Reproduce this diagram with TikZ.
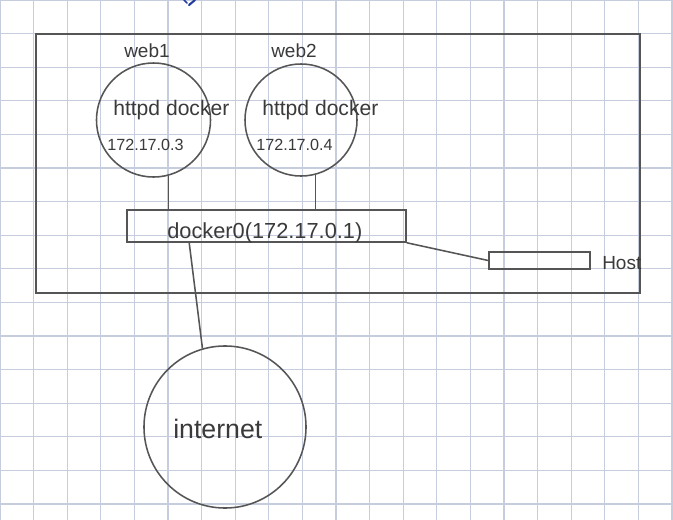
\documentclass[tikz,border=0pt]{standalone}
\usepackage{fontspec}
\setmainfont{Liberation Sans}
\usetikzlibrary{positioning}
\definecolor{gridblue}{RGB}{198,205,222}
\definecolor{penGray}{RGB}{85,85,85}
\definecolor{inkGray}{RGB}{58,58,58}
\definecolor{penBlue}{RGB}{35,60,160}

\begin{document}
\begin{tikzpicture}[x=0.025cm, y=-0.025cm,
  sketch/.style={draw=penGray, line width=1.1pt},
  hand/.style={text=inkGray, inner sep=0pt, anchor=base west},
  box/.style={sketch, rectangle, inner sep=0pt},
  ball/.style={sketch, circle, inner sep=0pt}]
\useasboundingbox (0,0) rectangle (673,520);
\fill[white] (0,0) rectangle (673,520);

% squared paper
\foreach \k in {0,...,20} \draw[gridblue, line width=0.8pt] (33.6*\k,0) -- (33.6*\k,520);
\foreach \k in {0,...,15} \draw[gridblue, line width=0.8pt] (0,33.6*\k) -- (673,33.6*\k);

% pen mark cut off at the top
\draw[penBlue, line width=1.5pt, line cap=round] (195,0) -- (189,5);
\draw[penBlue, line width=1.2pt, line cap=round] (184,0) -- (187,3);

% host machine
\draw[penGray, line width=1.4pt] (36,34) rectangle (640,293);

\node[hand, font=\fontsize{13.5}{16}\selectfont] (lbl1) at (124,57) {web1};
\node[hand, font=\fontsize{13.5}{16}\selectfont] (lbl2) at (271,57) {web2};

\node[ball, minimum size=2.85cm] (c1) at (153.5,120) {};
\node[ball, minimum size=2.8cm] (c2) at (301,120) {};

\node[hand, font=\fontsize{15}{18}\selectfont] (h1) at (113,115) {httpd docker};
\node[hand, font=\fontsize{11.5}{13}\selectfont] (ip1) at (107,150) {172.17.0.3};
\node[hand, font=\fontsize{15}{18}\selectfont] (h2) at (262,115) {httpd docker};
\node[hand, font=\fontsize{11.5}{13}\selectfont] (ip2) at (256,150) {172.17.0.4};

\node[box, minimum width=6.975cm, minimum height=0.8cm] (d0) at (266.5,226) {};
\node[hand, font=\fontsize{15.5}{18}\selectfont] (d0txt) at (167,238) {docker0(172.17.0.1)};

\node[box, minimum width=2.525cm, minimum height=0.425cm] (host) at (539.5,260.5) {};
\node[hand, font=\fontsize{13.5}{16}\selectfont] (hosttxt) at (602,269) {Host};

\node[ball, minimum size=4.05cm] (net) at (225,427) {};
\node[hand, font=\fontsize{19}{22}\selectfont] (nettxt) at (173,438) {internet};

\draw[sketch] (c1.-75) -- (c1.-75 |- d0.north);
\draw[sketch] (c2.-75) -- (c2.-75 |- d0.north);
\draw[sketch] (d0.south east) -- (host.west);
\draw[sketch] (d0.south west) ++(63,0) -- (net.106);

\end{tikzpicture}
\end{document}
